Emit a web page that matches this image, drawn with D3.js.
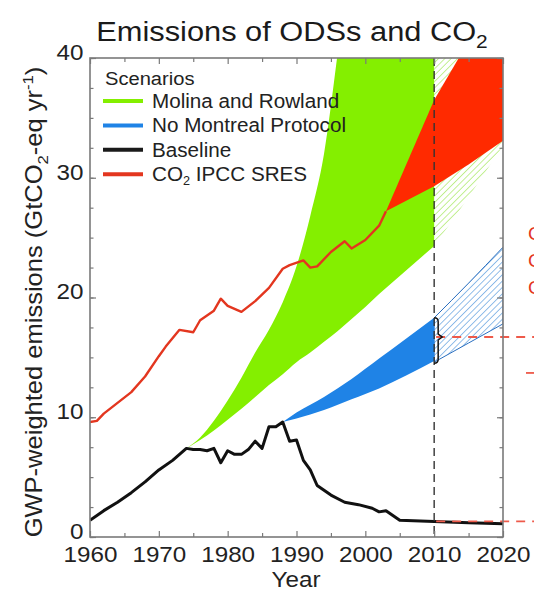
<!DOCTYPE html>
<html>
<head>
<meta charset="utf-8">
<script src="https://cdn.jsdelivr.net/npm/d3@7"></script>
<style>
  html, body { margin: 0; padding: 0; background: #fff; overflow: hidden; }
  svg { display: block; font-family: "Liberation Sans", Arial, Helvetica, sans-serif; }
</style>
</head>
<body>
<svg id="chart" width="534" height="593"></svg>
<script>
// ---- Data (GtCO2-eq per year) ----
// Observed CO2 emissions, up to the start of the SRES range
const co2Years  = [1960,1961,1962,1964,1966,1968,1970,1971,1973,1975,1976,1978,1979,1980,1982,1984,1986,1988,1989,1991,1992,1993,1995,1997,1998,2000,2002,2003];
const co2Values = [9.6,9.7,10.3,11.2,12.1,13.4,15.1,15.9,17.3,17.1,18.1,18.9,19.9,19.3,18.8,19.7,20.8,22.4,22.7,23.1,22.5,22.6,23.8,24.7,24.1,24.8,26.0,27.2];

// Baseline ODS emissions
const baseYears  = [1960,1962,1964,1966,1968,1970,1972,1974,1975,1976,1977,1978,1979,1980,1981,1982,1983,1984,1985,1986,1987,1988,1989,1990,1991,1992,1993,1994,1995,1997,1999,2001,2002,2003,2004,2005,2010,2015,2020];
const baseValues = [1.4,2.2,2.9,3.7,4.6,5.6,6.4,7.4,7.3,7.3,7.2,7.4,6.2,7.2,6.9,6.9,7.3,8.0,7.4,9.2,9.2,9.6,8.0,8.1,6.4,5.6,4.3,3.9,3.5,2.9,2.7,2.4,2.1,2.2,1.8,1.4,1.3,1.2,1.1];

// Molina and Rowland scenario range
const mrYears = [1974,1976,1978,1980,1982,1984,1986,1988,1990,1992,1994,1996,1998,2000,2002,2004,2006,2008,2010];
const mrLow   = [7.4,8.1,8.9,9.8,10.7,11.7,12.7,13.6,14.6,15.4,16.3,17.2,18.2,19.2,20.3,21.3,22.3,23.3,24.3];
const mrHigh  = [7.4,8.3,9.7,11.4,13.3,15.4,17.3,19.6,22.6,26.8,32.0,40.5,50,60,70,80,90,100,110];

// No Montreal Protocol scenario range
const nmpYears = [1988,1990,1994,1998,2002,2006,2010];
const nmpLow   = [9.6,9.9,10.6,11.5,12.4,13.5,14.7];
const nmpHigh  = [9.6,10.4,11.7,13.2,14.9,16.6,18.3];

// Projections 2010-2020 (hatched)
const projYears   = [2010,2015,2020];
const mrProjLow   = [24.3,28.4,32.7];
const mrProjHigh  = [45,55,65];
const nmpProjLow  = [14.6,16.2,17.8];
const nmpProjHigh = [18.3,21.2,24.2];

// CO2 IPCC SRES range
const sresYears = [2003,2010,2015,2020];
const sresLow   = [27.2,29.3,31.1,33.1];
const sresHigh  = [27.2,36.5,41.4,46];

// Reference levels marked at 2010
const bracketRange = [14.5, 18.3];
const bracketMid   = 16.7;
const refLevels    = [16.7, 1.3];
const sideTick     = 13.7;

const xTicks = [1960,1970,1980,1990,2000,2010,2020];
const yTicks = [0,10,20,30,40];

const legendLabels = ["Molina and Rowland","No Montreal Protocol","Baseline","CO\u2082 IPCC SRES"];
const legendColors = ["#84ef00","#1f83e6","#1a1a1a","#e3361f"];

// ---- Setup ----
const svg = d3.select("#chart");
const W = 534, H = 593;
const plot = {left: 90, right: 503, top: 58, bottom: 537};
const x = d3.scaleLinear().domain([1960, 2020]).range([plot.left, plot.right]);
const y = d3.scaleLinear().domain([0, 40]).range([plot.bottom, plot.top]);

const GREEN = "#84ef00", BLUE = "#1f83e6", RED_FILL = "#ff2a00", RED_LINE = "#e3361f";
const SX = 1.1; // horizontal stretch of the lettering

const defs = svg.append("defs");
defs.append("clipPath").attr("id", "plotClip")
  .append("rect")
  .attr("x", plot.left).attr("y", plot.top)
  .attr("width", plot.right - plot.left).attr("height", plot.bottom - plot.top);

function hatch(id, color, w) {
  const p = defs.append("pattern").attr("id", id)
    .attr("patternUnits", "userSpaceOnUse")
    .attr("width", 4.5).attr("height", 4.5)
    .attr("patternTransform", "rotate(45)");
  p.append("rect").attr("width", 4.5).attr("height", 4.5).attr("fill", "#fff");
  p.append("line").attr("x1", 0).attr("y1", 0).attr("x2", 0).attr("y2", 4.5)
    .attr("stroke", color).attr("stroke-width", w);
}
hatch("hatchGreen", "#a4e85a", 1.3);
hatch("hatchBlue", "#4a92dc", 1.2);

const zip = (xs, lo, hi) => xs.map((yr, i) => ({year: yr, lo: lo[i], hi: hi ? hi[i] : lo[i]}));

const band = d3.area()
  .x(d => x(d.year)).y0(d => y(d.lo)).y1(d => y(d.hi))
  .curve(d3.curveMonotoneX);
const bandStraight = d3.area()
  .x(d => x(d.year)).y0(d => y(d.lo)).y1(d => y(d.hi));
const line = d3.line().x(d => x(d.year)).y(d => y(d.lo));

const g = svg.append("g").attr("clip-path", "url(#plotClip)");

// Hatched projection bands
g.append("path").datum(zip(projYears, mrProjLow, mrProjHigh))
  .attr("d", band).attr("fill", "url(#hatchGreen)");
g.append("path").datum(zip(projYears, nmpProjLow, nmpProjHigh))
  .attr("d", band).attr("fill", "url(#hatchBlue)")
  .attr("stroke", "#2a6fc0").attr("stroke-width", 1);

// Solid scenario bands
g.append("path").datum(zip(mrYears, mrLow, mrHigh))
  .attr("d", band).attr("fill", GREEN);
g.append("path").datum(zip(nmpYears, nmpLow, nmpHigh))
  .attr("d", band).attr("fill", BLUE);
g.append("path").datum(zip(sresYears, sresLow, sresHigh))
  .attr("d", bandStraight).attr("fill", RED_FILL);

// Baseline and CO2 lines
g.append("path").datum(zip(co2Years, co2Values))
  .attr("d", line).attr("fill", "none")
  .attr("stroke", RED_LINE).attr("stroke-width", 2.4).attr("stroke-linejoin", "round");
g.append("path").datum(zip(baseYears, baseValues))
  .attr("d", line).attr("fill", "none")
  .attr("stroke", "#111").attr("stroke-width", 3).attr("stroke-linejoin", "round");

// 2010 divider
svg.append("line")
  .attr("x1", x(2010)).attr("x2", x(2010))
  .attr("y1", y(40)).attr("y2", y(0))
  .attr("stroke", "#333").attr("stroke-width", 1.4).attr("stroke-dasharray", "8,5");

// Red reference levels running off to the right
refLevels.forEach(v => {
  svg.append("line")
    .attr("x1", x(2010) + 2).attr("x2", W)
    .attr("y1", y(v)).attr("y2", y(v))
    .attr("stroke", "#ee5a4a").attr("stroke-width", 1.8).attr("stroke-dasharray", "9,7");
});
svg.append("line")
  .attr("x1", W - 8).attr("x2", W)
  .attr("y1", y(sideTick)).attr("y2", y(sideTick))
  .attr("stroke", "#ee5a4a").attr("stroke-width", 1.8);

// Bracket at 2010
{
  const bx = x(2010), b0 = y(bracketRange[1]), b1 = y(bracketRange[0]), bm = y(bracketMid);
  const p = d3.path();
  p.moveTo(bx, b0);
  p.quadraticCurveTo(bx + 4, b0, bx + 4, b0 + 4);
  p.lineTo(bx + 4, bm - 3);
  p.lineTo(bx + 8, bm);
  p.lineTo(bx + 4, bm + 3);
  p.lineTo(bx + 4, b1 - 4);
  p.quadraticCurveTo(bx + 4, b1, bx, b1);
  svg.append("path").attr("d", p.toString())
    .attr("fill", "none").attr("stroke", "#111").attr("stroke-width", 1.5);
}

// ---- Axes ----
const axisColor = "#7a7a7a";
const fontTick = 22;
const minorY = d3.range(0, 40.1, 2.5);
const minorX = d3.range(1965, 2020, 10);

const leftAxis = svg.append("g").attr("transform", `translate(${plot.left},0)`)
  .call(d3.axisLeft(y).tickValues(yTicks).tickSize(-6).tickPadding(6).tickFormat(d3.format("d")));
leftAxis.selectAll("text").attr("dy", "0.06em");
svg.append("g").attr("transform", `translate(${plot.left},0)`)
  .call(d3.axisLeft(y).tickValues(minorY).tickSize(-3.5).tickFormat(""));
svg.append("g").attr("transform", `translate(${plot.right},0)`)
  .call(d3.axisRight(y).tickValues(yTicks).tickSize(-6).tickFormat(""));
svg.append("g").attr("transform", `translate(${plot.right},0)`)
  .call(d3.axisRight(y).tickValues(minorY).tickSize(-3.5).tickFormat(""));

svg.append("g").attr("transform", `translate(0,${plot.bottom})`)
  .call(d3.axisBottom(x).tickValues(xTicks).tickSize(-6).tickPadding(9).tickFormat(d3.format("d")));
svg.append("g").attr("transform", `translate(0,${plot.bottom})`)
  .call(d3.axisBottom(x).tickValues(minorX).tickSize(-4).tickFormat(""));
svg.append("g").attr("transform", `translate(0,${plot.top})`)
  .call(d3.axisTop(x).tickValues(xTicks).tickSize(-6).tickFormat(""));
svg.append("g").attr("transform", `translate(0,${plot.top})`)
  .call(d3.axisTop(x).tickValues(minorX).tickSize(-4).tickFormat(""));

svg.selectAll(".domain").remove();
svg.selectAll(".tick line").attr("stroke", axisColor).attr("stroke-width", 1.2);
svg.selectAll(".tick text").attr("fill", "#222").attr("font-size", fontTick)
  .attr("font-family", "Liberation Sans, Arial, sans-serif")
  .attr("transform", `scale(${SX},1)`);

svg.append("rect")
  .attr("x", plot.left).attr("y", plot.top)
  .attr("width", plot.right - plot.left).attr("height", plot.bottom - plot.top)
  .attr("fill", "none").attr("stroke", axisColor).attr("stroke-width", 1.6);

// ---- Titles ----
const title = svg.append("text")
  .attr("transform", `translate(292,41) scale(1.1,1)`).attr("text-anchor", "middle")
  .attr("font-size", 28).attr("fill", "#1a1a1a");
title.append("tspan").text("Emissions of ODSs and CO");
title.append("tspan").attr("font-size", 19).attr("dy", 7).text("2");

svg.append("text")
  .attr("transform", `translate(296,587) scale(${SX},1)`).attr("text-anchor", "middle")
  .attr("font-size", 22).attr("fill", "#222").text("Year");

const yl = svg.append("text")
  .attr("transform", "translate(42,302) rotate(-90) scale(1.11,1)")
  .attr("text-anchor", "middle").attr("font-size", 23).attr("fill", "#222");
yl.append("tspan").text("GWP-weighted emissions (GtCO");
yl.append("tspan").attr("font-size", 15).attr("dy", 6).text("2");
yl.append("tspan").attr("dy", -6).text("-eq yr");
yl.append("tspan").attr("font-size", 15).attr("dy", -9).text("-1");
yl.append("tspan").attr("dy", 9).text(")");

// ---- Legend ----
const lg = svg.append("g");
lg.append("text").attr("transform", "translate(105,85) scale(1.06,1)")
  .attr("font-size", 19).attr("fill", "#222").text("Scenarios");
legendLabels.forEach((lab, i) => {
  const ly = 101 + i * 24.4;
  lg.append("line").attr("x1", 103).attr("x2", 143).attr("y1", ly).attr("y2", ly)
    .attr("stroke", legendColors[i]).attr("stroke-width", 4);
  const t = lg.append("text").attr("transform", `translate(152,${ly + 7}) scale(1.06,1)`)
    .attr("font-size", 19.5).attr("fill", "#222");
  if (lab.startsWith("CO\u2082")) {
    t.append("tspan").text("CO");
    t.append("tspan").attr("font-size", 12).attr("dy", 4).text("2");
    t.append("tspan").attr("dy", -4).text(" IPCC SRES");
  } else {
    t.text(lab);
  }
});

// Labels of the neighbouring panel, cut by the edge
["C", "C", "C"].forEach((s, i) => {
  svg.append("text").attr("x", 528).attr("y", 240 + i * 27)
    .attr("font-size", 19).attr("fill", "#e3361f").text(s);
});
</script>
</body>
</html>
